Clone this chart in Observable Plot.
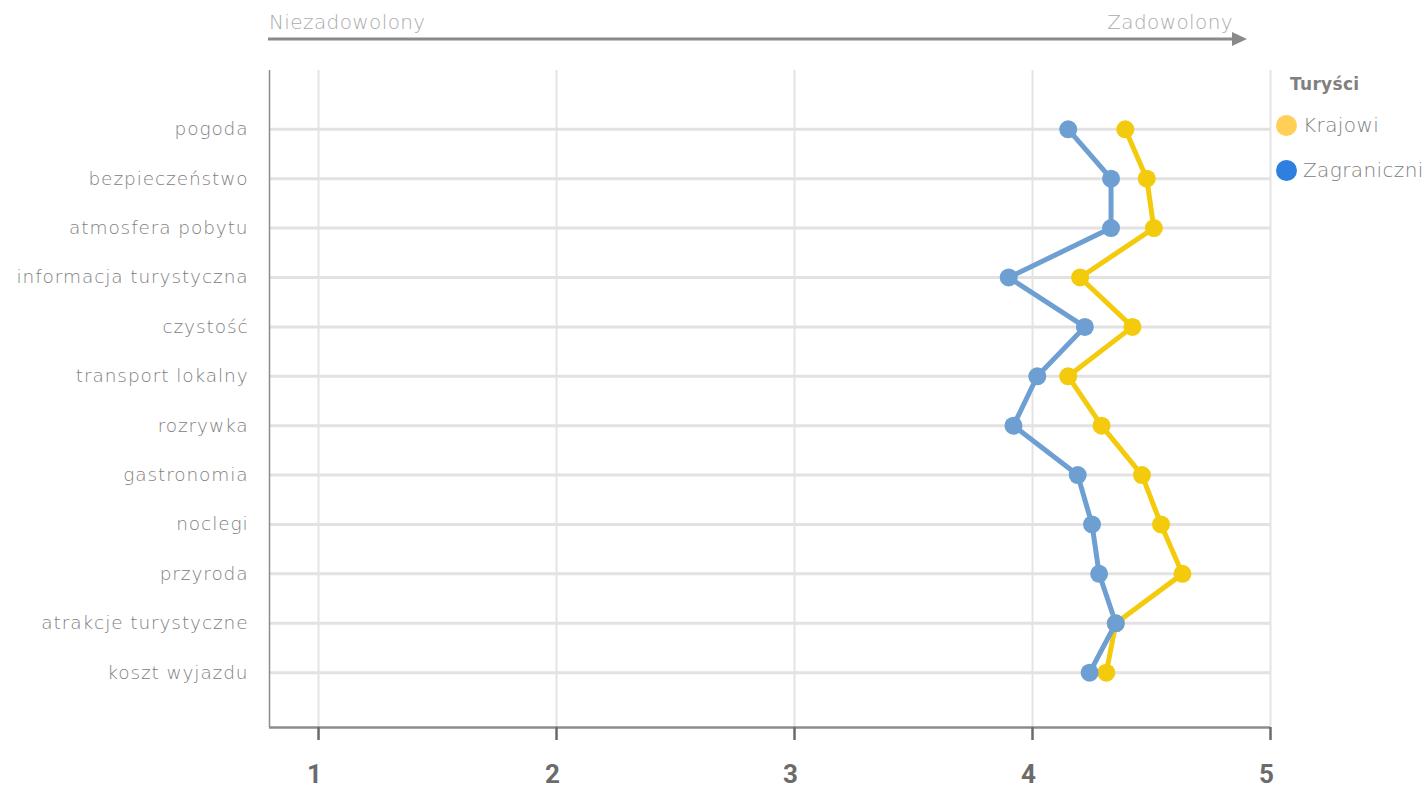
<!DOCTYPE html>
<html><head><meta charset="utf-8">
<script src="https://cdn.jsdelivr.net/npm/d3@7"></script>
<script src="https://cdn.jsdelivr.net/npm/@observablehq/plot@0.6"></script>
<style>
body{margin:0;background:#fff;font-family:"DejaVu Sans",sans-serif;}
#wrap{position:relative;width:1427px;height:789px;overflow:hidden;}
#chart{position:absolute;left:0;top:0;}
.top{position:absolute;color:#ababab;font-size:20px;font-weight:200;top:10px;white-space:nowrap;letter-spacing:0.4px;}
#leg{position:absolute;left:1276px;top:74px;color:#808080;font-size:20px;font-weight:200;letter-spacing:0.4px;}
#leg .t{font-weight:700;font-size:17px;margin-left:14px;margin-bottom:19px;letter-spacing:0.3px;}
#leg .r{display:flex;align-items:center;height:24px;margin-bottom:21px;white-space:nowrap;}
#leg .c{width:21px;height:21px;border-radius:50%;margin-right:6px;flex:none;}
[aria-label="y-axis tick label"] text{letter-spacing:0.9px;}
</style></head>
<body><div id="wrap">
<div class="top" id="tl" style="left:269px;">Niezadowolony</div>
<div class="top" id="tr" style="right:194px;">Zadowolony</div>
<svg style="position:absolute;left:0;top:0" width="1427" height="60">
<line x1="268" y1="39" x2="1234" y2="39" stroke="#8a8a8a" stroke-width="3"/>
<path d="M1232,32 L1247,39 L1232,46 Z" fill="#8a8a8a"/>
</svg>
<div id="chart"></div>
<div id="leg"></div>
</div>
<script>
const categories = ["pogoda","bezpieczeństwo","atmosfera pobytu","informacja turystyczna","czystość","transport lokalny","rozrywka","gastronomia","noclegi","przyroda","atrakcje turystyczne","koszt wyjazdu"];
const krajowi = [4.39,4.48,4.51,4.20,4.42,4.15,4.29,4.46,4.54,4.63,4.35,4.31];
const zagraniczni = [4.15,4.33,4.33,3.90,4.22,4.02,3.92,4.19,4.25,4.28,4.35,4.24];
const seriesNames = ["Krajowi","Zagraniczni"];
const lineColors = ["#f3cb0c","#6e9fd3"];
const legendColors = ["#ffcf57","#2e7fe0"];
const xTicks = [1,2,3,4,5];
const legendTitle = "Turyści";
const topLabels = ["Niezadowolony","Zadowolony"];
document.getElementById("tl").textContent = topLabels[0];
document.getElementById("tr").textContent = topLabels[1];

const data = [];
categories.forEach((c,i)=>{
  data.push({cat:c,i,series:seriesNames[0],v:krajowi[i]});
});
categories.forEach((c,i)=>{
  data.push({cat:c,i,series:seriesNames[1],v:zagraniczni[i]});
});
const xMin = 0.794, yTop = -1.19, yBot = 12.11;

const chart = Plot.plot({
  width:1427, height:789,
  marginLeft:269, marginRight:157, marginTop:70, marginBottom:62,
  style:{fontFamily:"'DejaVu Sans', sans-serif", background:"transparent"},
  x:{domain:[xMin,5]},
  y:{domain:[yTop,yBot], range:[70,727]},
  color:{domain:seriesNames, range:lineColors},
  marks:[
    Plot.ruleX(xTicks,{stroke:"#e4e4e4",strokeWidth:2,y1:yTop,y2:yBot}),
    Plot.ruleY(categories.map((c,i)=>i),{stroke:"#e2e2e2",strokeWidth:3,x1:xMin,x2:5}),
    Plot.ruleX([xMin],{stroke:"#8c8c8c",strokeWidth:1.5,y1:yTop,y2:yBot}),
    Plot.ruleY([yBot],{stroke:"#8c8c8c",strokeWidth:2.5,x1:xMin,x2:5}),
    Plot.axisX(xTicks,{tickSize:13,stroke:"#6b6b6b",strokeWidth:2.5,label:null,tickFormat:()=>""}),
    Plot.axisX(xTicks,{tickSize:0,tickPadding:37,fill:"#6b6b6b",fontSize:26,fontWeight:"bold",
      label:null,tickFormat:d=>String(d),dx:-4,
      fontFamily:"'Liberation Sans Narrow', 'Roboto', sans-serif"}),
    Plot.axisY(categories.map((c,i)=>i),{tickSize:0,tickPadding:21,fill:"#808080",
      fontSize:18.5,fontWeight:200,label:null,tickFormat:i=>categories[i]}),
    Plot.line(data,{x:"v",y:"i",z:"series",stroke:"series",strokeWidth:5}),
    Plot.dot(data,{x:"v",y:"i",fill:"series",r:9})
  ]
});
document.getElementById("chart").appendChild(chart);

const leg = document.getElementById("leg");
let h = `<div class="t">${legendTitle}</div>`;
seriesNames.forEach((s,k)=>{
  h += `<div class="r"><div class="c" style="background:${legendColors[k]}"></div>${s}</div>`;
});
leg.innerHTML = h;
</script>
</body></html>
